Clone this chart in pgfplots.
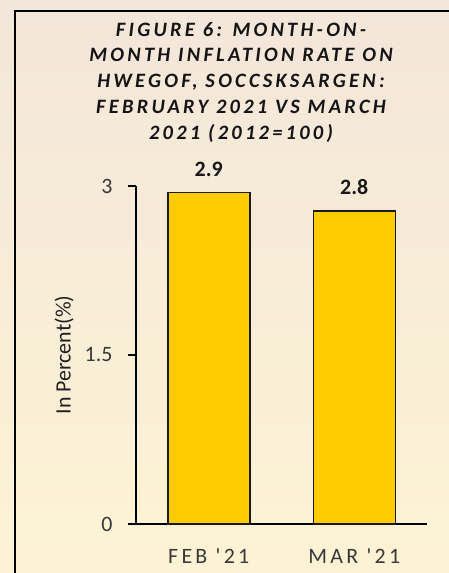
\documentclass[border=0pt]{standalone}
\usepackage{fontspec}
\setmainfont{Carlito}
\newfontfamily\titlefont[LetterSpace=16]{Carlito}
\newfontfamily\xlabfont[LetterSpace=15]{Carlito}
\usepackage{pgfplots}
\pgfplotsset{compat=1.18}
\definecolor{bgA}{HTML}{F3E6DA}
\definecolor{bgB}{HTML}{FDF3D4}
\definecolor{bary}{HTML}{FFCC02}
\begin{document}
\begin{tikzpicture}[x=1bp,y=1bp]
\useasboundingbox (0,0) rectangle (449,573);
\clip (0,0) rectangle (449,573);
\shade[top color=bgA,bottom color=bgB] (0,0) rectangle (449,573);
\draw[line width=2.5bp] (15,-20) rectangle (480,562);
\begin{scope}[every node/.style={font=\titlefont\bfseries\itshape\fontsize{20.5}{24}\selectfont, anchor=base, text=black!92}]
\node at (241,536) {FIGURE 6: MONTH-ON-};
\node at (241,511) {MONTH INFLATION RATE ON};
\node at (241,485) {HWEGOF, SOCCSKSARGEN:};
\node at (241,459) {FEBRUARY 2021 VS MARCH};
\node at (241,433) {2021 (2012=100)};
\end{scope}
\begin{axis}[
  at={(136bp,49bp)}, anchor=south west,
  scale only axis, width=291bp, height=338bp,
  xmin=-0.5, xmax=1.5, ymin=0, ymax=3,
  axis lines*=left,
  axis line style={line width=1.3bp, black},
  clip=false,
  /pgf/number format/assume math mode=true,
  xtick={0,1}, xticklabels={FEB '21, MAR '21},
  major x tick style={draw=none},
  ytick={0,1.5,3},
  tick align=outside,
  major tick length=8bp,
  major y tick style={line width=1.3bp, black},
  yticklabel style={font=\fontsize{22}{26}\selectfont, xshift=-12bp, text=black!78},
  xticklabel style={font=\xlabfont\fontsize{22}{26}\selectfont, anchor=base, yshift=-31bp, text=black!78},
  ylabel={In Percent(\%)},
  every axis y label/.style={at={(axis description cs:-0.2474,0.5)}, rotate=90, anchor=center, font=\fontsize{22}{26}\selectfont, text=black!88},
  ybar, bar width=82bp,
  nodes near coords={\pgfmathprintnumber[fixed,zerofill,precision=1]{\pgfplotspointmeta}},
  every node near coord/.append style={font=\bfseries\fontsize{22}{26}\selectfont, anchor=base, yshift=16bp, inner sep=0pt, text=black!90},
]
\addplot[fill=bary, draw=black!90, line width=1.5bp] coordinates {(0,2.94) (1,2.78)};
\end{axis}
\end{tikzpicture}
\end{document}
